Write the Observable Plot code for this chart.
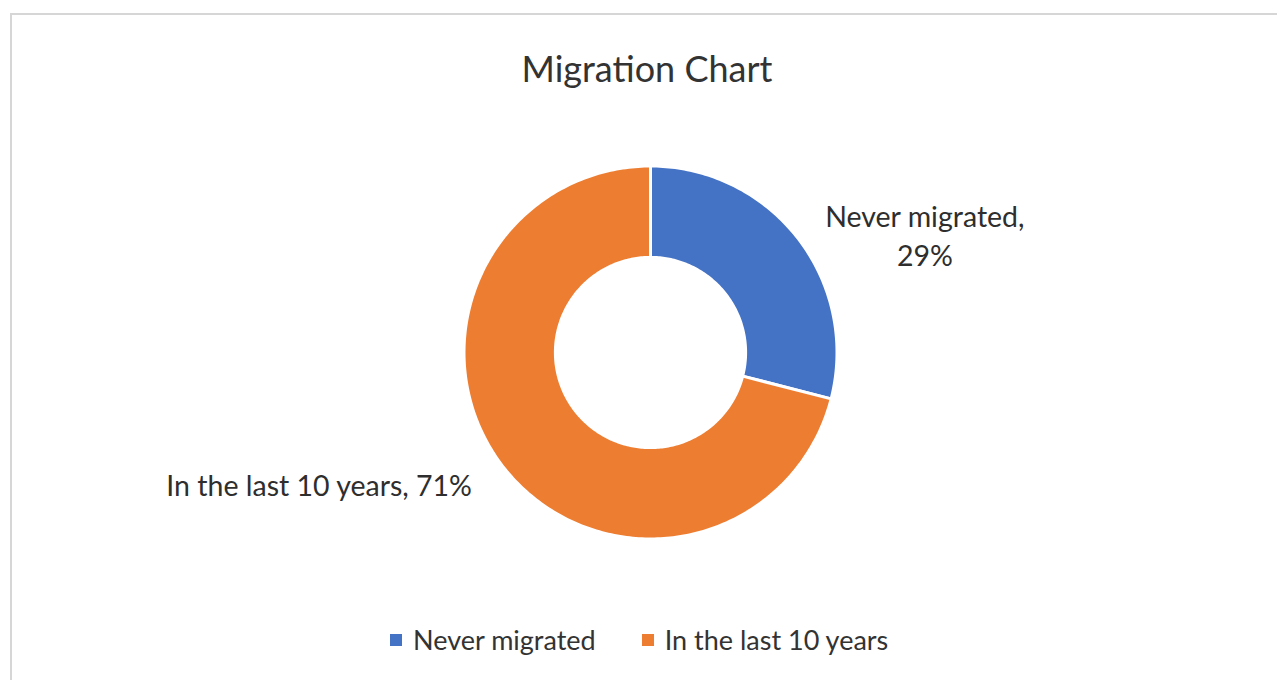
<!DOCTYPE html>
<html>
<head>
<meta charset="utf-8">
<script src="https://cdn.jsdelivr.net/npm/d3@7"></script>
<script src="https://cdn.jsdelivr.net/npm/@observablehq/plot@0.6"></script>
<style>
  html, body { margin: 0; padding: 0; background: #fff; }
  #wrap { position: relative; width: 1277px; height: 680px; overflow: hidden; font-family: Lato, "Open Sans", sans-serif; color: #333; }
  #frame { position: absolute; left: 10px; top: 13px; width: 1290px; height: 700px; border: 2px solid #d6d6d6; box-sizing: border-box; }
  #title { position: absolute; left: 0; width: 1294px; top: 44px; text-align: center; font-size: 36px; line-height: 48px; color: #333; }
  #chart { position: absolute; left: 0; top: 92px; }
  #legend { position: absolute; top: 622px; left: 390px; display: flex; align-items: center; font-size: 27px; line-height: 36px; color: #333; white-space: nowrap; }
  .item { display: flex; align-items: center; margin-right: 46px; }
  .sw { width: 12px; height: 12px; margin-right: 11px; }
</style>
</head>
<body>
<div id="wrap">
  <div id="frame"></div>
  <div id="title"></div>
  <div id="chart"></div>
  <div id="legend"></div>
</div>
<script>
// ---- data ----
const chartTitle = "Migration Chart";
const categories = ["Never migrated", "In the last 10 years"];
const shares = [29, 71];
const colors = ["#4472C4", "#ED7D31"];
const labels = ["Never migrated,\n29%", "In the last 10 years, 71%"];

// ---- build slices (angles from the data) ----
const total = d3.sum(shares);
let cum = 0;
const slices = categories.map((c, i) => {
  const a0 = cum / total * 2 * Math.PI;
  cum += shares[i];
  const a1 = cum / total * 2 * Math.PI;
  return {cat: c, value: shares[i], a0, a1, mid: (a0 + a1) / 2, label: labels[i]};
});

const rOut = 1, rIn = 0.51;
const ringPts = [];
for (const s of slices) {
  const n = Math.max(8, Math.ceil((s.a1 - s.a0) * 60));
  for (let k = 0; k <= n; k++) {
    const a = s.a0 + (s.a1 - s.a0) * k / n;
    ringPts.push({cat: s.cat, x: rOut * Math.sin(a), y: rOut * Math.cos(a)});
  }
  for (let k = n; k >= 0; k--) {
    const a = s.a0 + (s.a1 - s.a0) * k / n;
    ringPts.push({cat: s.cat, x: rIn * Math.sin(a), y: rIn * Math.cos(a)});
  }
}
const labelPts = slices.map(s => ({cat: s.cat, label: s.label, x: rOut * Math.sin(s.mid), y: rOut * Math.cos(s.mid)}));

// ---- layout ----
const W = 1277, H = 520, cx = 650, k = 186.5;
const plot = Plot.plot({
  width: W, height: H,
  margin: 0,
  x: {domain: [-cx / k, (W - cx) / k], axis: null},
  y: {domain: [-(H / 2) / k, (H / 2) / k], axis: null},
  color: {domain: categories, range: colors},
  style: {fontFamily: "Lato, 'Open Sans', sans-serif", background: "transparent", overflow: "visible"},
  marks: [
    Plot.line(ringPts, {x: "x", y: "y", z: "cat", fill: "cat", stroke: "white", strokeWidth: 3, curve: "linear-closed"}),
    Plot.text(labelPts.filter(d => d.cat === categories[0]), {x: "x", y: "y", text: "label", dx: 127, dy: -4, fontSize: 28.5, lineHeight: 1.38, fill: "#2e2e2e", textAnchor: "middle"}),
    Plot.text(labelPts.filter(d => d.cat === categories[1]), {x: "x", y: "y", text: "label", dx: -184, dy: 20, fontSize: 28.5, fill: "#2e2e2e", textAnchor: "middle"})
  ]
});
document.getElementById("chart").appendChild(plot);

document.getElementById("title").textContent = chartTitle;
const legend = document.getElementById("legend");
categories.forEach((c, i) => {
  const item = document.createElement("div");
  item.className = "item";
  const sw = document.createElement("div");
  sw.className = "sw";
  sw.style.background = colors[i];
  const t = document.createElement("span");
  t.textContent = c;
  item.appendChild(sw); item.appendChild(t);
  legend.appendChild(item);
});
</script>
</body>
</html>
